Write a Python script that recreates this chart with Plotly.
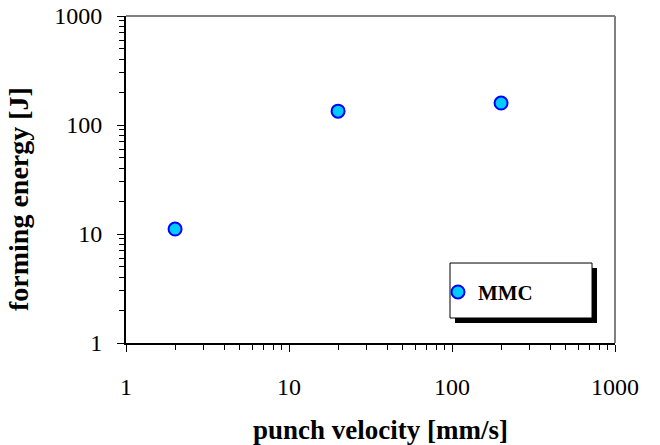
import plotly.graph_objects as go

velocity = [2, 20, 200]
energy = [11.1, 134, 159]
series_name = "MMC"
x_title = "punch velocity [mm/s]"
y_title = "forming energy [J]"
major_ticks = [1, 10, 100, 1000]
major_labels = ["1", "10", "100", "1000"]
minor_ticks = [m * d for d in (1, 10, 100) for m in range(2, 10)]

font = "Liberation Serif, Times New Roman, serif"

fig = go.Figure()
fig.add_trace(go.Scatter(
    x=velocity, y=energy, mode="markers", name=series_name,
    marker=dict(symbol="circle", size=13, color="#00CCFF",
                line=dict(color="#0000FF", width=2)),
))

axis_common = dict(
    type="log", showgrid=False, zeroline=False, automargin=False,
    showline=True, linecolor="black", linewidth=2,
    ticks="outside", tickcolor="black", tickwidth=1, ticklen=7,
    tickvals=major_ticks, ticktext=major_labels, range=[0, 3],
    tickfont=dict(family=font, size=24, color="black"),
    minor=dict(ticks="outside", ticklen=5, tickcolor="black", tickwidth=1,
               tickvals=minor_ticks, showgrid=False),
)

fig.update_layout(
    width=660, height=445,
    margin=dict(l=126, r=45, t=16, b=102),
    paper_bgcolor="white", plot_bgcolor="white",
    font=dict(family=font, color="black"),
    xaxis=dict(**axis_common, ticklabelstandoff=14),
    yaxis=dict(**axis_common, ticklabelstandoff=10),
    showlegend=True,
    legend=dict(x=0.638, y=0.155, xanchor="left", yanchor="middle",
                bgcolor="rgba(0,0,0,0)", borderwidth=0,
                font=dict(family=font, size=21, color="black", weight="bold")),
    annotations=[
        dict(text="<b>" + x_title + "</b>", xref="paper", yref="paper",
             x=0.52, y=-0.266, xanchor="center", yanchor="middle",
             showarrow=False, font=dict(family=font, size=27, color="black")),
        dict(text="<b>" + y_title + "</b>", xref="paper", yref="paper",
             x=-0.221, y=0.44, xanchor="center", yanchor="middle", textangle=-90,
             showarrow=False, font=dict(family=font, size=28, color="black")),
    ],
    shapes=[
        dict(type="line", xref="paper", yref="paper", x0=0, x1=1, y0=1, y1=1,
             line=dict(color="#808080", width=2)),
        dict(type="line", xref="paper", yref="paper", x0=1, x1=1, y0=0, y1=1,
             line=dict(color="#808080", width=2)),
        dict(type="rect", xref="paper", yref="paper", x0=0.6728, x1=0.9632,
             y0=0.0612, y1=0.2294, fillcolor="black", line=dict(width=0), layer="above"),
        dict(type="rect", xref="paper", yref="paper", x0=0.6626, x1=0.953,
             y0=0.0765, y1=0.2446, fillcolor="white",
             line=dict(color="black", width=1), layer="above"),
    ],
)
fig.write_html("out.html", config={"displayModeBar": False},
               post_script="document.body.style.margin='0';")
